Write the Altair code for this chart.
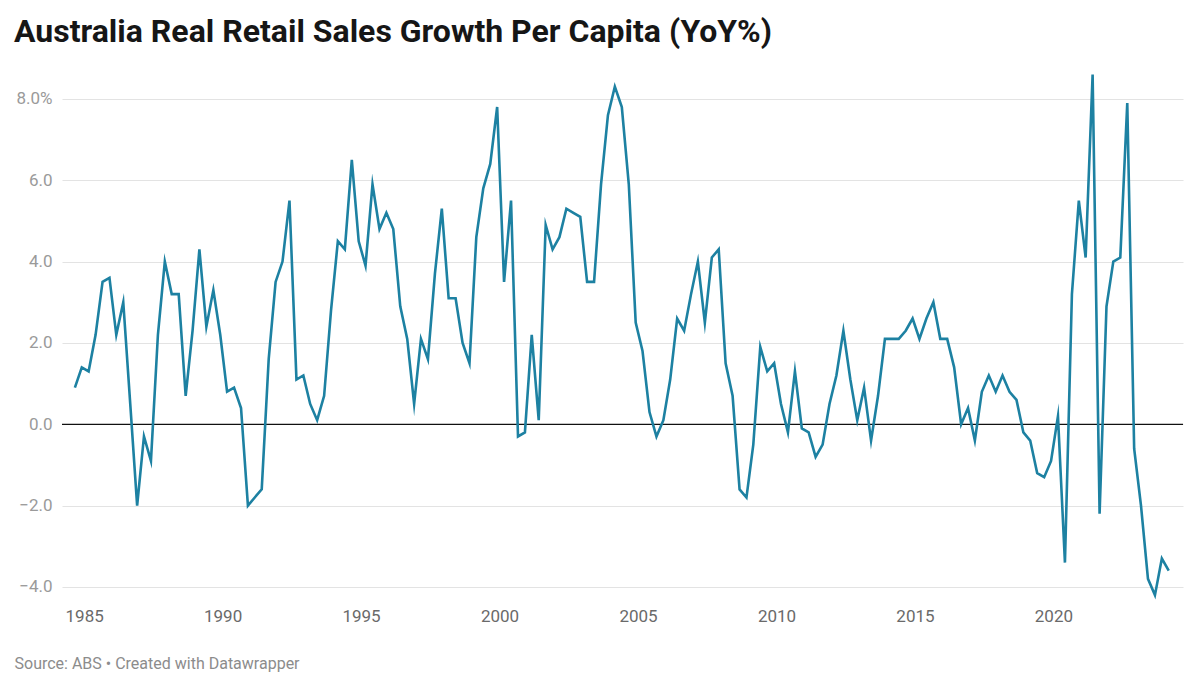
import altair as alt
import pandas as pd

TITLE = "Australia Real Retail Sales Growth Per Capita (YoY%)"
SOURCE = "Source: ABS • Created with Datawrapper"

# Quarterly observations, Sep-1984 quarter through Mar-2024 quarter
START = "1984-09-01"
growth = [
    0.9, 1.4, 1.3, 2.2, 3.5, 3.6, 2.2, 3.0, 0.5, -2.0,
    -0.3, -0.9, 2.2, 4.0, 3.2, 3.2, 0.7, 2.3, 4.3, 2.4,
    3.3, 2.2, 0.8, 0.9, 0.4, -2.0, -1.8, -1.6, 1.6, 3.5,
    4.0, 5.5, 1.1, 1.2, 0.5, 0.1, 0.7, 2.8, 4.5, 4.3,
    6.5, 4.5, 3.9, 5.9, 4.8, 5.2, 4.8, 2.9, 2.1, 0.5,
    2.1, 1.6, 3.7, 5.3, 3.1, 3.1, 2.0, 1.5, 4.6, 5.8,
    6.4, 7.8, 3.5, 5.5, -0.3, -0.2, 2.2, 0.1, 4.9, 4.3,
    4.6, 5.3, 5.2, 5.1, 3.5, 3.5, 5.9, 7.6, 8.3, 7.8,
    5.9, 2.5, 1.8, 0.3, -0.3, 0.1, 1.1, 2.6, 2.3, 3.2,
    4.0, 2.5, 4.1, 4.3, 1.5, 0.7, -1.6, -1.8, -0.5, 1.9,
    1.3, 1.5, 0.5, -0.2, 1.3, -0.1, -0.2, -0.8, -0.5, 0.5,
    1.2, 2.3, 1.1, 0.1, 0.9, -0.4, 0.7, 2.1, 2.1, 2.1,
    2.3, 2.6, 2.1, 2.6, 3.0, 2.1, 2.1, 1.4, 0.0, 0.4,
    -0.4, 0.8, 1.2, 0.8, 1.2, 0.8, 0.6, -0.2, -0.4, -1.2,
    -1.3, -0.9, 0.2, -3.4, 3.2, 5.5, 4.1, 8.6, -2.2, 2.9,
    4.0, 4.1, 7.9, -0.6, -2.0, -3.8, -4.2, -3.3, -3.6,
]
y_ticks = [-4, -2, 0, 2, 4, 6, 8]
x_tick_years = [1985, 1990, 1995, 2000, 2005, 2010, 2015, 2020]
zero_line = [0]

dates = pd.date_range(START, periods=len(growth), freq="3MS")
df = pd.DataFrame({"date": dates, "value": growth})
zero_df = pd.DataFrame({"y": zero_line})

x_domain = [
    {"year": 1984, "month": 3, "date": 15},
    {"year": 2024, "month": 9, "date": 5},
]
x_ticks = [alt.DateTime(year=y, month=1, date=1) for y in x_tick_years]

x_scale = alt.Scale(domain=x_domain)
y_scale = alt.Scale(domain=[-4.32, 8.71], nice=False, zero=False)

line = alt.Chart(df).mark_line(
    color="#1d81a2", strokeWidth=2.6, strokeJoin="miter", strokeMiterLimit=10
).encode(
    x=alt.X(
        "date:T",
        scale=x_scale,
        axis=alt.Axis(
            values=x_ticks,
            format="%Y",
            grid=False,
            ticks=False,
            domain=False,
            labelColor="#6a6a6a",
            labelFontSize=17,
            labelFont="Roboto",
            labelPadding=8,
            labelAlign="center",
            title=SOURCE,
            titleFont="Roboto",
            titleFontSize=16,
            titleFontWeight="normal",
            titleColor="#8c8c8c",
            titleAnchor="start",
            titleAlign="left",
            titleBaseline="alphabetic",
            titleX=-48,
            titleY=68,
        ),
    ),
    y=alt.Y(
        "value:Q",
        scale=y_scale,
        axis=alt.Axis(
            values=y_ticks,
            labelExpr="datum.value == 8 ? '8.0%' : replace(format(datum.value, '.1f'), '-', '\u2212')",
            grid=True,
            gridColor="#e3e3e3",
            gridWidth=1,
            ticks=False,
            domain=False,
            labelColor="#9a9a9a",
            labelFontSize=17,
            labelFont="Roboto",
            labelPadding=10,
            labelAlign="right",
            labelBaseline="middle",
            title=None,
        ),
    ),
)

zero = alt.Chart(zero_df).mark_rule(color="#111111", strokeWidth=1.2).encode(
    y=alt.Y("y:Q", scale=y_scale)
)

chart = alt.layer(zero, line).properties(
    width=1121,
    height=530,
    background="white",
    autosize=alt.AutoSizeParams(type="none"),
    padding={"left": 62, "top": 70, "right": 17, "bottom": 88},
    title=alt.TitleParams(
        TITLE,
        anchor="start",
        frame="group",
        dx=-48,
        dy=40,
        offset=27,
        baseline="alphabetic",
        font="Roboto",
        fontSize=32,
        fontWeight="bold",
        color="#161616",
    ),
).configure_view(strokeWidth=0)

chart.save("out.html", embed_options={"renderer": "svg", "actions": False})
